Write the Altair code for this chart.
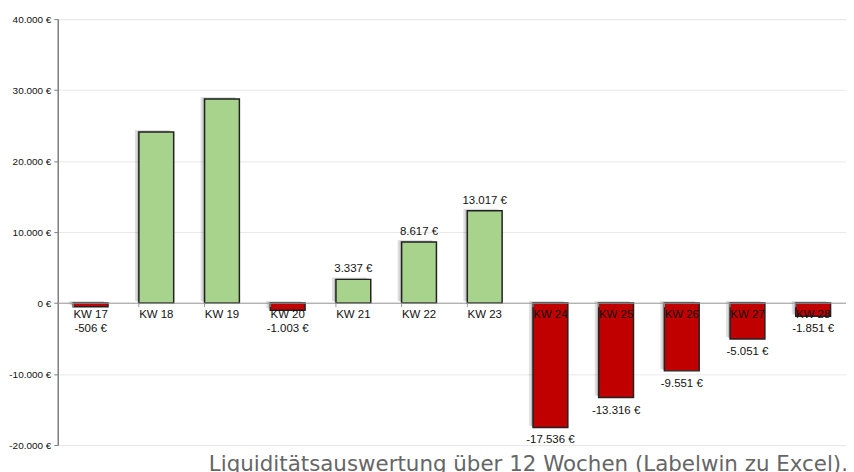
import altair as alt
import pandas as pd

weeks = ["KW 17", "KW 18", "KW 19", "KW 20", "KW 21", "KW 22",
         "KW 23", "KW 24", "KW 25", "KW 26", "KW 27", "KW 28"]
values = [-506, 24100, 28750, -1003, 3337, 8617,
          13017, -17536, -13316, -9551, -5051, -1851]
show_label = [True, False, False, True, True, True,
              True, True, True, True, True, True]
y_ticks = [-20000, -10000, 0, 10000, 20000, 30000, 40000]


def fmt(v):
    s = f"{abs(v):,}".replace(",", ".")
    return ("-" if v < 0 else "") + s + " €"


df = pd.DataFrame({
    "week": weeks,
    "value": values,
    "sign": ["pos" if v >= 0 else "neg" for v in values],
    "label": [fmt(v) if s else "" for v, s in zip(values, show_label)],
})
# negative labels sit below the category label row when the bar is short
df["label_at"] = [v if v >= 0 else min(v, -1800) for v in values]

FONT = "Liberation Sans"

x = alt.X("week:N", sort=weeks, title=None,
          scale=alt.Scale(paddingInner=0.47, paddingOuter=0.235),
          axis=alt.Axis(offset=-143, domainColor="#9a9a9a", tickColor="#9a9a9a",
                        tickSize=4, bandPosition=0, labelAngle=0, zindex=1,
                        labelFont=FONT, labelFontSize=11.5,
                        labelColor="#111", labelPadding=2, grid=False))
y = alt.Y("value:Q", title=None,
          scale=alt.Scale(domain=[-20000, 40000], nice=False),
          axis=alt.Axis(values=y_ticks,
                        labelExpr="replace(replace(format(datum.value, ',.0f'), ',', '.'), '\u2212', '-') + ' €'",
                        labelFont=FONT, labelFontSize=10, labelColor="#111",
                        domainColor="#808080", domainWidth=1.5,
                        tickColor="#808080", tickSize=4, labelPadding=3,
                        gridColor="#e8e8e8", gridWidth=1))

base = alt.Chart(df)

shadow1 = base.mark_bar(color="#000", opacity=0.12, xOffset=-4, x2Offset=-1,
                        yOffset=-2, y2Offset=1).encode(x=x, y=y)
shadow2 = base.mark_bar(color="#000", opacity=0.15, xOffset=-2, x2Offset=0,
                        yOffset=-1, y2Offset=0).encode(x=x, y=y)

bars = base.mark_bar(stroke="#222", strokeWidth=1.5).encode(
    x=x, y=y,
    color=alt.Color("sign:N", scale=alt.Scale(domain=["pos", "neg"],
                                              range=["#A8D38C", "#C00000"]),
                    legend=None),
)

labels_pos = base.transform_filter("datum.value >= 0").mark_text(
    baseline="bottom", dy=-5, font=FONT, fontSize=11.5, color="#111"
).encode(x=alt.X("week:N", sort=weeks), y="label_at:Q", text="label:N")

labels_neg = base.transform_filter("datum.value < 0").mark_text(
    baseline="top", dy=7, font=FONT, fontSize=11.5, color="#111"
).encode(x=alt.X("week:N", sort=weeks), y="label_at:Q", text="label:N")

chart = alt.layer(shadow1, shadow2, bars, labels_pos, labels_neg).properties(
    width=792, height=428,
    title=alt.TitleParams("Liquiditätsauswertung über 12 Wochen (Labelwin zu Excel).",
                          orient="bottom", anchor="end", font="DejaVu Sans",
                          fontSize=21.5, fontWeight="normal", color="#666",
                          offset=4, dx=2),
    autosize=alt.AutoSizeParams(type="none"),
    padding={"left": 50, "top": 10, "right": 0, "bottom": 40},
).configure_view(stroke="#9a9a9a", strokeWidth=1).configure(background="white")

chart.save("out.html", embed_options={"renderer": "svg", "actions": False})
